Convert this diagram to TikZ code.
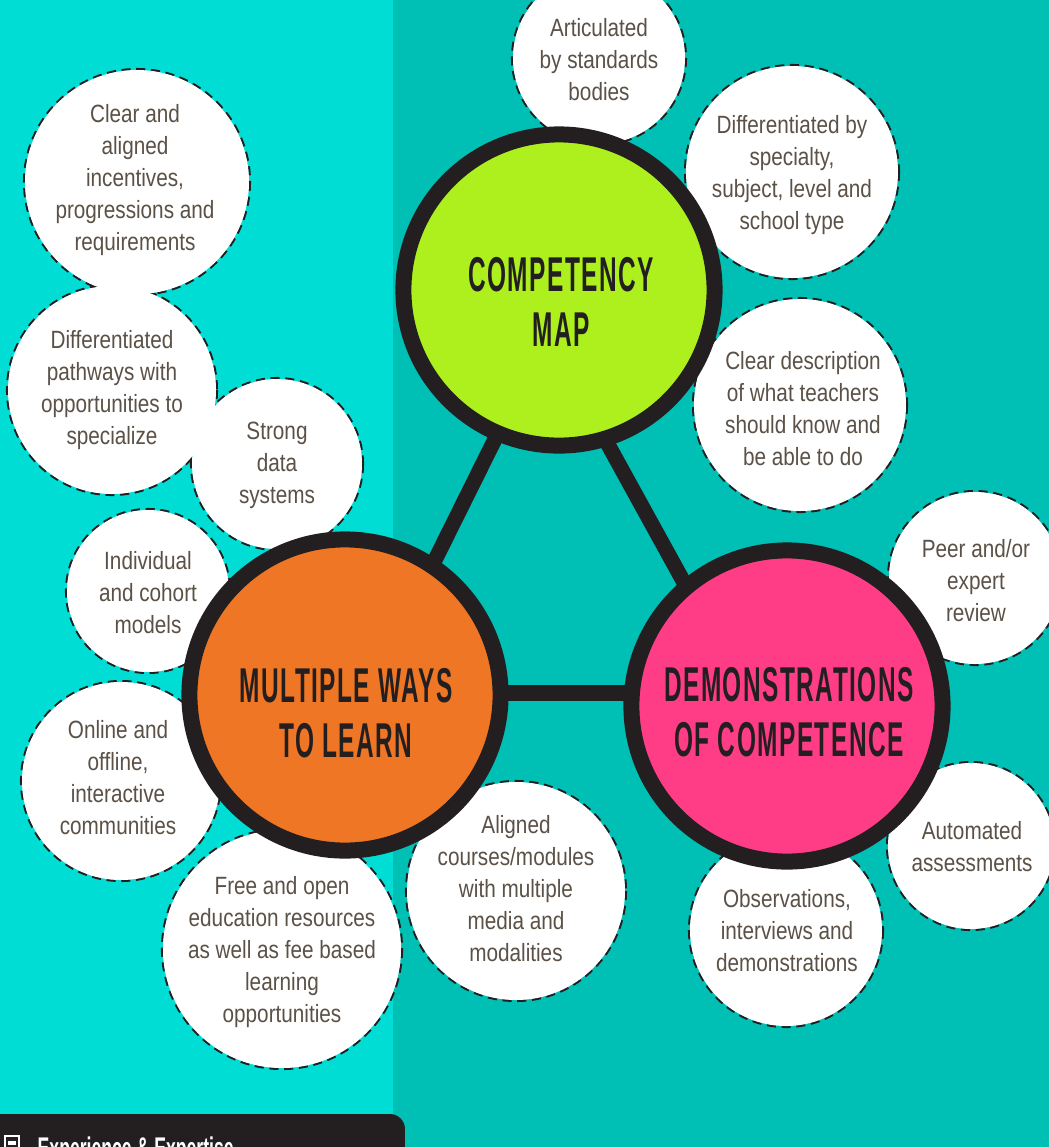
\documentclass[tikz,border=0pt]{standalone}
\usepackage{fontspec}
\setmainfont{Liberation Sans}
\newfontfamily\bubfont[FakeStretch=0.83]{Liberation Sans}
\newfontfamily\headfont[FakeStretch=0.50,LetterSpace=3]{Liberation Sans Bold}
\newfontfamily\tabfont[FakeStretch=0.59]{Liberation Sans Bold}
\usepackage{tikz}

\definecolor{ink}{HTML}{231F20}
\definecolor{txt}{HTML}{5B5147}
\definecolor{leftbg}{HTML}{00DDD5}
\definecolor{rightbg}{HTML}{00BFB5}
\definecolor{limehub}{HTML}{ADF01E}
\definecolor{orangehub}{HTML}{EE7624}
\definecolor{pinkhub}{HTML}{FF3D86}

\pgfdeclarelayer{back}
\pgfdeclarelayer{links}
\pgfsetlayers{back,links,main}

% bubbles: name/x/y/radius (px)
\def\bubbles{artic/599/58/87, diffby/792/172/107, clrdesc/800/405/107,
  peer/975/578/87, autom/971/846/84, observ/786/930/97, aligned/516/891/110,
  freeopen/282/949/120, online/121/781/100, indiv/148/591/82, strong/277/464/86,
  pathway/112/390/105, incent/137/182/113}

\begin{document}
\begin{tikzpicture}[x=0.01cm, y=-0.01cm,
  bubline/.style={draw=ink, line width=0.6pt, dash pattern=on 2.6pt off 1.6pt},
  bubtext/.style={font=\bubfont\fontsize{7.1}{9.1}\selectfont, text=txt, align=center, inner sep=0pt},
  hub/.style={circle, draw=ink, line width=4.55pt, minimum size=3.11cm, inner sep=0pt},
  headtext/.style={font=\headfont\fontsize{13.9}{15.6}\selectfont, text=ink, align=center, inner sep=0pt},
  link/.style={draw=ink, line width=4.3pt}]
  \useasboundingbox (0,0) rectangle (1049,1147);
  \clip (0,0) rectangle (1049,1147);

  \begin{pgfonlayer}{back}
    \fill[leftbg] (0,0) rectangle (393,1147);
    \fill[rightbg] (393,0) rectangle (1049,1147);
  \end{pgfonlayer}

  % dashed rims first, white fills over them
  \foreach \n/\x/\y/\r in \bubbles {
    \coordinate (\n) at (\x,\y);
    \draw[bubline] (\n) circle (\r);
  }
  \foreach \n/\x/\y/\r in \bubbles
    \fill[white] (\n) circle (\r-1);

  \node[bubtext] (articT) at (599,60) {Articulated\\by standards\\bodies};
  \node[bubtext] (diffbyT) at (792,175) {Differentiated by\\specialty,\\subject, level and\\school type};
  \node[bubtext] (clrdescT) at (803,409) {Clear description\\of what teachers\\should know and\\be able to do};
  \node[bubtext] (peerT) at (976,581) {Peer and/or\\expert\\review};
  \node[bubtext] (automT) at (972,847) {Automated\\assessments};
  \node[bubtext] (observT) at (787,931) {Observations,\\interviews and\\demonstrations};
  \node[bubtext] (alignedT) at (516,889) {Aligned\\courses/modules\\with multiple\\media and\\modalities};
  \node[bubtext] (freeopenT) at (282,952) {Free and open\\education resources\\as well as fee based\\learning\\opportunities};
  \node[bubtext] (onlineT) at (118,778) {Online and\\offline,\\interactive\\communities};
  \node[bubtext] (indivT) at (148,593) {Individual\\and cohort\\models};
  \node[bubtext] (strongT) at (277,465) {Strong\\data\\systems};
  \node[bubtext] (pathwayT) at (112,390) {Differentiated\\pathways with\\opportunities to\\specialize};
  \node[bubtext] (incentT) at (135,180) {Clear and\\aligned\\incentives,\\progressions and\\requirements};

  % the three hubs
  \node[hub, fill=limehub] (cmap) at (559,290) {};
  \node[hub, fill=orangehub] (mways) at (345,695) {};
  \node[hub, fill=pinkhub] (demo) at (787,706) {};
  \node[headtext] (cmapT) at (561,302) {COMPETENCY\\MAP};
  \node[headtext] (mwaysT) at (346,713) {MULTIPLE WAYS\\TO LEARN};
  \node[headtext] (demoT) at (789,712) {DEMONSTRATIONS\\OF COMPETENCE};

  \begin{pgfonlayer}{links}
    \draw[link] ([xshift=0.1cm]cmap.center) -- ([xshift=0.23cm]mways.center);
    \draw[link] ([xshift=-0.36cm]cmap.center) -- ([xshift=-0.35cm]demo.center);
    \draw[link] ([yshift=0.02cm]mways.center) -- ([yshift=0.02cm]mways.center -| demo.center);
  \end{pgfonlayer}

  % bottom tab
  \fill[ink, rounded corners=4.3pt] (-30,1114) rectangle (405,1220);
  \draw[white, line width=0.7pt] (5,1136) rectangle (19,1152);
  \draw[white, line width=0.9pt] (8,1143) -- (16,1143);
  \node[anchor=base west, inner sep=0pt, text=white, font=\tabfont\fontsize{8.5}{9}\selectfont] (expert) at (37,1158) {Experience \& Expertise};
\end{tikzpicture}
\end{document}
